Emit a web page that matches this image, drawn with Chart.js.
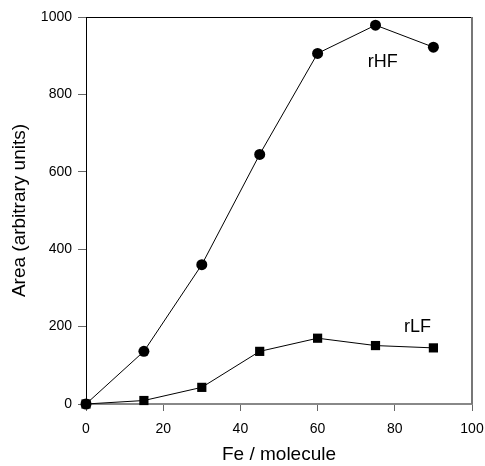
<!DOCTYPE html>
<html>
<head>
<meta charset="utf-8">
<script src="https://cdn.jsdelivr.net/npm/chart.js@4/dist/chart.umd.min.js"></script>
<style>
  html, body { margin: 0; padding: 0; background: #fff; }
  #wrap { width: 485px; height: 466px; }
</style>
</head>
<body>
<div id="wrap"><canvas id="c1"></canvas></div>
<script>
// Fe per molecule (x) and peak area (y)
var fe = [0, 15, 30, 45, 60, 75, 90];
var rHF = [0, 136, 360, 645, 906, 979, 922];
var rLF = [0, 9, 43, 136, 170, 151, 145];

var xTicks = [0, 20, 40, 60, 80, 100];
var yTicks = [0, 200, 400, 600, 800, 1000];

// text labels placed in data coordinates
var seriesLabels = [
    { text: 'rHF', x: 76.9, y: 884 },
    { text: 'rLF', x: 85.9, y: 198 }
];

var toPoints = (ys) => fe.map((x, i) => ({ x: x, y: ys[i] }));

var frameAndLabels = {
    id: 'frameAndLabels',
    afterDatasetsDraw: function(chart) {
        var ctx = chart.ctx;
        var a = chart.chartArea;
        ctx.save();
        // top border
        ctx.strokeStyle = '#000';
        ctx.lineWidth = 1;
        ctx.beginPath();
        ctx.moveTo(a.left, a.top + 0.5);
        ctx.lineTo(a.right, a.top + 0.5);
        ctx.stroke();
        // right border
        ctx.strokeStyle = '#777';
        ctx.lineWidth = 2;
        ctx.beginPath();
        ctx.moveTo(a.right, a.top);
        ctx.lineTo(a.right, a.bottom);
        ctx.stroke();

        ctx.fillStyle = '#000';
        ctx.font = '18px "Liberation Sans", Arial, sans-serif';
        ctx.textAlign = 'center';
        ctx.textBaseline = 'middle';
        seriesLabels.forEach(function(l) {
            ctx.fillText(l.text, chart.scales.x.getPixelForValue(l.x), chart.scales.y.getPixelForValue(l.y));
        });
        ctx.restore();
    }
};

var data = {
    datasets: [
        {
            label: 'rHF',
            data: toPoints(rHF),
            borderColor: '#000',
            backgroundColor: '#000',
            borderWidth: 1,
            pointStyle: 'circle',
            pointRadius: 5.5,
            pointBorderWidth: 0,
            clip: false
        },
        {
            label: 'rLF',
            data: toPoints(rLF),
            borderColor: '#000',
            backgroundColor: '#000',
            borderWidth: 1,
            pointStyle: 'rect',
            pointRadius: 6.5,
            pointBorderWidth: 0,
            clip: false
        }
    ]
};

var tickFont = { family: '"Liberation Sans", Arial, sans-serif', size: 14 };
var titleFont = { family: '"Liberation Sans", Arial, sans-serif', size: 19 };

var options = {
    responsive: true,
    maintainAspectRatio: false,
    animation: false,
    layout: { padding: { top: 17, right: 13, left: 0, bottom: 0 } },
    plugins: { legend: { display: false }, tooltip: { enabled: false } },
    scales: {
        x: {
            type: 'linear',
            min: 0,
            max: 100,
            afterFit: (s) => { s.height = 62; s.paddingLeft = 0; s.paddingRight = 0; },
            afterBuildTicks: (s) => { s.ticks = xTicks.map((v) => ({ value: v })); },
            ticks: { color: '#000', font: tickFont, padding: 10, maxRotation: 0, callback: (v) => String(v) },
            grid: { drawOnChartArea: false, drawTicks: true, tickLength: 7, color: '#666', tickWidth: 1 },
            border: { color: '#888', width: 2 },
            title: { display: true, text: 'Fe / molecule', color: '#000', font: titleFont, padding: 0 }
        },
        y: {
            type: 'linear',
            min: 0,
            max: 1000,
            afterFit: (s) => { s.width = 86; s.paddingTop = 0; s.paddingBottom = 0; },
            afterBuildTicks: (s) => { s.ticks = yTicks.map((v) => ({ value: v })); },
            ticks: { color: '#000', font: tickFont, padding: 6, callback: (v) => String(v) },
            grid: { drawOnChartArea: false, drawTicks: true, tickLength: 8, color: '#666', tickWidth: 1 },
            border: { color: '#000', width: 1 },
            title: { display: true, text: 'Area (arbitrary units)', color: '#000', font: titleFont, padding: { top: 8, bottom: 0 } }
        }
    }
};

var div = document.getElementById('c1');
var chart = new Chart(div.getContext('2d'), {
    type: 'line',
    data: data,
    options: options,
    plugins: [frameAndLabels]
});
</script>
</body>
</html>
